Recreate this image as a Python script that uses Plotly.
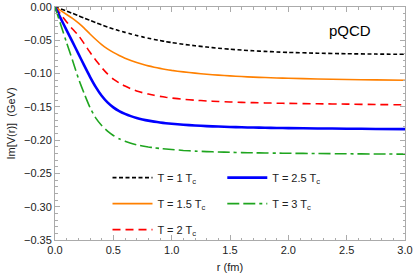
import plotly.graph_objects as go

# radial distance (fm)
r = [0, 0.05, 0.1, 0.15, 0.2, 0.25, 0.3, 0.35, 0.4, 0.45, 0.5, 0.55, 0.6, 0.65, 0.7, 0.75,
     0.8, 0.85, 0.9, 0.95, 1.0, 1.1, 1.2, 1.3, 1.4, 1.5, 1.6, 1.7, 1.8, 1.9, 2.0,
     2.25, 2.5, 2.75, 3.0]

# Im[V(r)] (GeV) for each temperature
im_T1 = [0, -0.0030, -0.0062, -0.0096, -0.0131, -0.0166, -0.0201, -0.0236, -0.0269, -0.0300,
         -0.0329, -0.0356, -0.0381, -0.0405, -0.0428, -0.0449, -0.0469, -0.0487, -0.0504,
         -0.0520, -0.0534, -0.0560, -0.0582, -0.0601, -0.0619, -0.0634, -0.0647, -0.0658,
         -0.0667, -0.0675, -0.0682, -0.0694, -0.0702, -0.0707, -0.0710]
im_T15 = [0, -0.0055, -0.0112, -0.0172, -0.0240, -0.0318, -0.0405, -0.0488, -0.0565, -0.0628,
          -0.0682, -0.0729, -0.0769, -0.0803, -0.0833, -0.0860, -0.0884, -0.0904, -0.0922,
          -0.0938, -0.0952, -0.0975, -0.0994, -0.1010, -0.1023, -0.1035, -0.1045, -0.1053,
          -0.1060, -0.1066, -0.1071, -0.1081, -0.1089, -0.1095, -0.1100]
im_T2 = [0, -0.0112, -0.0224, -0.0330, -0.0425, -0.0550, -0.0680, -0.0800, -0.0910, -0.1005,
         -0.1083, -0.1140, -0.1188, -0.1228, -0.1260, -0.1287, -0.1308, -0.1326, -0.1342,
         -0.1356, -0.1367, -0.1386, -0.1400, -0.1411, -0.1419, -0.1426, -0.1432, -0.1437,
         -0.1441, -0.1445, -0.1448, -0.1454, -0.1459, -0.1465, -0.1470]
im_T25 = [0, -0.0175, -0.0350, -0.0525, -0.0700, -0.0878, -0.1048, -0.1203, -0.1333, -0.1433,
          -0.1508, -0.1563, -0.1605, -0.1639, -0.1667, -0.1689, -0.1707, -0.1722, -0.1735,
          -0.1746, -0.1755, -0.1769, -0.1780, -0.1789, -0.1796, -0.1802, -0.1807, -0.1811,
          -0.1814, -0.1817, -0.1819, -0.1824, -0.1828, -0.1832, -0.1835]
im_T3 = [0, -0.0270, -0.0540, -0.0800, -0.1070, -0.1300, -0.1510, -0.1670, -0.1780, -0.1865,
         -0.1930, -0.1980, -0.2015, -0.2045, -0.2070, -0.2088, -0.2103, -0.2115, -0.2125,
         -0.2133, -0.2140, -0.2155, -0.2165, -0.2172, -0.2178, -0.2183, -0.2187, -0.2190,
         -0.2193, -0.2195, -0.2197, -0.2201, -0.2205, -0.2208, -0.2210]

names = ["T = 1 T<sub>c</sub>", "T = 1.5 T<sub>c</sub>", "T = 2 T<sub>c</sub>",
         "T = 2.5 T<sub>c</sub>", "T = 3 T<sub>c</sub>"]

FONT = "Liberation Sans, Arial, sans-serif"

fig = go.Figure()
series = [
    (im_T1, names[0], "#000000", 1.6, "4px,2.5px", "legend"),
    (im_T15, names[1], "#ff8000", 1.6, "solid", "legend"),
    (im_T2, names[2], "#ff0000", 1.6, "8px,5px", "legend"),
    (im_T25, names[3], "#0000ff", 2.6, "solid", "legend2"),
    (im_T3, names[4], "#1fa51f", 1.6, "12px,4px,12px,4px,3px,4px", "legend2"),
]
for i, (y, name, color, w, dash, leg) in enumerate(series):
    fig.add_trace(go.Scatter(
        x=r, y=y, mode="lines", name=name, legend=leg, legendgroup=f"g{i}",
        line=dict(color=color, width=w, dash=dash, shape="spline", smoothing=0.5),
    ))

frame = "#ababab"
axis_common = dict(
    showgrid=False, zeroline=False, showline=True, linecolor=frame, linewidth=1,
    mirror="allticks", ticks="inside", ticklen=5, tickcolor=frame, tickwidth=1,
    tickfont=dict(family=FONT, size=11, color="#222222"), automargin=False,
)

fig.update_xaxes(range=[0, 3], dtick=0.5, tick0=0, tickformat=".1f",
                 minor=dict(dtick=0.1, ticks="inside", ticklen=2.5, tickcolor=frame),
                 title=dict(text="r (fm)", font=dict(family=FONT, size=11, color="#222222"), standoff=8),
                 **axis_common)
fig.update_yaxes(range=[-0.35, 0], dtick=0.05, tick0=0, tickformat=".2f",
                 minor=dict(dtick=0.01, ticks="inside", ticklen=2.5, tickcolor=frame),
                 title=dict(text="Im[V(r)]  (GeV)", font=dict(family=FONT, size=11, color="#222222"), standoff=6),
                 **axis_common)

legend_style = dict(font=dict(family=FONT, size=11, color="#222222"), bgcolor="rgba(0,0,0,0)",
                    itemwidth=40, tracegroupgap=7, yanchor="top", xanchor="left")
fig.update_layout(
    width=415, height=279,
    margin=dict(l=55, r=10, t=7, b=39, autoexpand=False),
    paper_bgcolor="white", plot_bgcolor="white",
    legend=dict(x=0.15, y=0.33, **legend_style),
    legend2=dict(x=0.478, y=0.33, **legend_style),
    annotations=[dict(text="pQCD", x=0.843, y=0.9, xref="paper", yref="paper",
                      xanchor="center", yanchor="middle",
                      showarrow=False, font=dict(family=FONT, size=15, color="#000000"))],
)

fig.write_html("out.html", config={"displayModeBar": False},
               post_script="document.body.style.margin='0';document.body.style.padding='0';")
